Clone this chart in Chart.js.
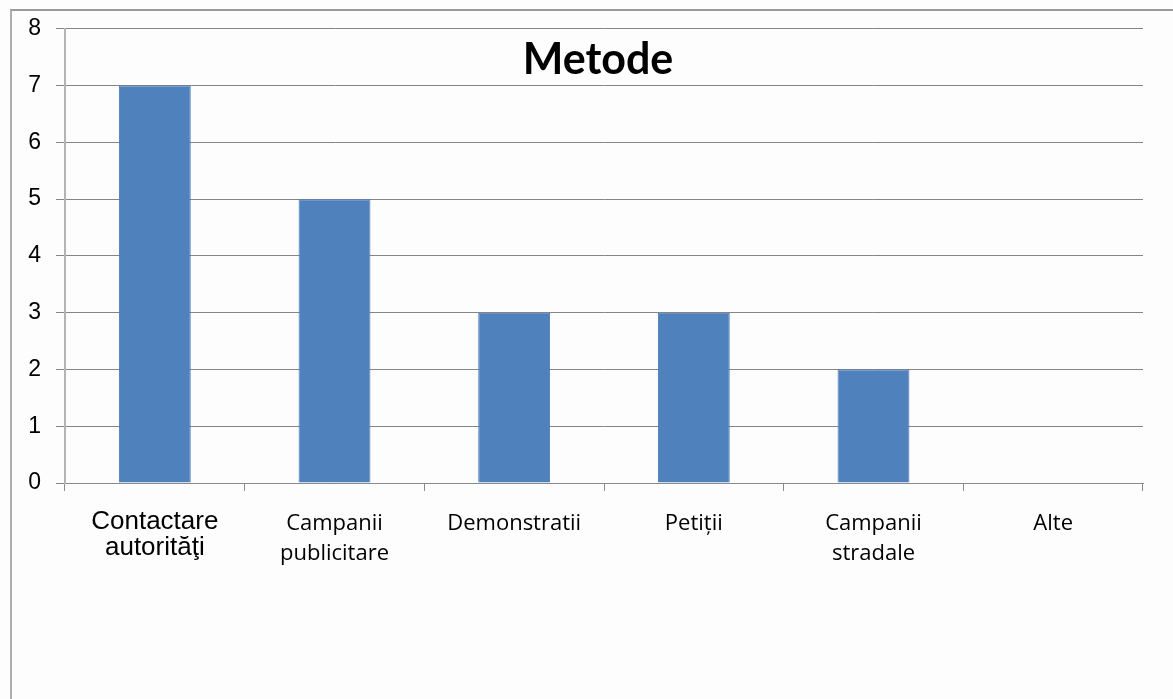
<!DOCTYPE html>
<html>
<head>
<meta charset="utf-8">
<script src="https://cdn.jsdelivr.net/npm/chart.js@4"></script>
<style>
    body { margin: 0; background: #fdfdfd; }
    #frame {
        position: absolute; left: 10px; top: 9px; right: 0; bottom: 0;
        border-top: 2px solid #9a9a9a; border-left: 2px solid #acacac;
    }
    #myChart { position: absolute; left: 0; top: 0; }
</style>
</head>
<body>
<div id="frame"></div>
<canvas id="myChart" width="1173" height="699"></canvas>
<script>
const categories = [
    ['Contactare', 'autorităţi'],
    ['Campanii', 'publicitare'],
    'Demonstratii',
    'Petiții',
    ['Campanii', 'stradale'],
    'Alte'
];
const values = [7, 5, 3, 3, 2, 0];
const yTicks = [0, 1, 2, 3, 4, 5, 6, 7, 8];
const chartTitle = 'Metode';

// titlul e desenat peste zona graficului, ca in original
const titlePlugin = {
    id: 'overTitle',
    afterDraw(chart) {
        const ctx = chart.ctx;
        ctx.save();
        ctx.font = 'bold 43px Lato';
        ctx.fillStyle = '#000';
        ctx.textAlign = 'center';
        ctx.textBaseline = 'alphabetic';
        ctx.fillText(chartTitle, 598, 74);
        ctx.restore();
    }
};

window.onload = function () {
    new Chart(document.getElementById('myChart'), {
        type: 'bar',
        data: {
            labels: categories,
            datasets: [{
                data: values,
                backgroundColor: '#4F81BD',
                borderColor: '#4a7ab6',
                borderWidth: 1,
                barPercentage: 0.4,
                categoryPercentage: 1
            }]
        },
        options: {
            responsive: false,
            animation: false,
            layout: { padding: { top: 27, right: 30, left: 0, bottom: 0 } },
            plugins: {
                legend: { display: false },
                title: { display: false },
                tooltip: { enabled: false }
            },
            scales: {
                x: {
                    afterFit: function (scale) { scale.height = 216; },
                    grid: {
                        drawOnChartArea: false,
                        color: '#8a8a8a',
                        tickLength: 8
                    },
                    border: { color: '#8a8a8a' },
                    ticks: {
                        color: '#000',
                        padding: 18,
                        maxRotation: 0,
                        autoSkip: false,
                        font: function (c) {
                            if (c.index === 0) {
                                return { family: 'Liberation Sans', size: 26, lineHeight: 1.0 };
                            }
                            return { family: 'Open Sans', size: 22, lineHeight: 1.36 };
                        }
                    }
                },
                y: {
                    min: 0,
                    max: 8,
                    afterFit: function (scale) { scale.width = 65; },
                    afterBuildTicks: function (scale) {
                        scale.ticks = yTicks.map(v => ({ value: v }));
                    },
                    grid: { color: '#858585', tickLength: 9 },
                    border: { color: '#b4b4b4', width: 2 },
                    ticks: {
                        color: '#000',
                        padding: 15,
                        font: { family: 'Liberation Sans', size: 23 }
                    }
                }
            }
        },
        plugins: [titlePlugin]
    });
};
</script>
</body>
</html>
